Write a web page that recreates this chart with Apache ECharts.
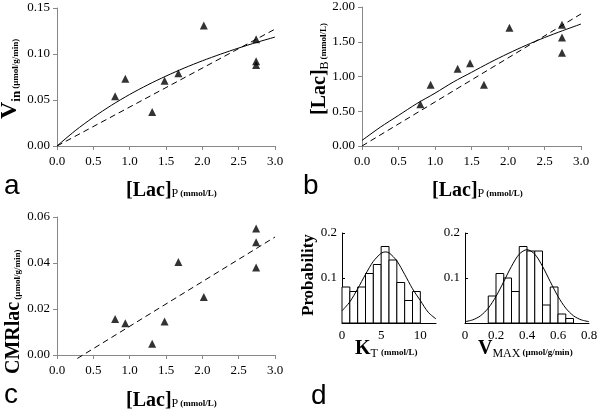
<!DOCTYPE html>
<html><head><meta charset="utf-8">
<script src="https://cdn.jsdelivr.net/npm/echarts@6/dist/echarts.min.js"></script>
<style>html,body{margin:0;padding:0;background:#fff}#c{width:601px;height:412px}</style>
</head><body><div id="c"></div>
<script>
// ---- data ----
const lacP = [0.80, 0.94, 1.31, 1.48, 1.67, 2.02, 2.74, 2.74, 2.74];
const vIn = [0.054, 0.073, 0.037, 0.071, 0.079, 0.131, 0.116, 0.092, 0.088];
const lacB = [0.60, 0.88, 1.11, 1.19, 0.88, 1.70, 1.745, 1.56, 1.34];
const cmrLac = [0.0156, 0.0138, 0.0049, 0.0146, 0.0404, 0.0252, 0.055, 0.049, 0.038];

const fitX = [0, 0.25, 0.5, 0.75, 1, 1.25, 1.5, 1.75, 2, 2.25, 2.5, 2.75, 3];
const vInFit = [0, 0.0166, 0.0312, 0.0443, 0.056, 0.0665, 0.076, 0.0847, 0.0926, 0.0998, 0.1065, 0.1127, 0.1184];
const lacBFit = [0.08, 0.27, 0.44, 0.61, 0.76, 0.92, 1.06, 1.20, 1.33, 1.45, 1.56, 1.66, 1.755];
const dashX = [0, 3];
const vInDash = [0, 0.127];
const lacBDash = [0, 1.90];
const cmrDashX = [0.28, 3.0];
const cmrDashY = [-0.0015, 0.0513];

const ktEdges = [0, 1, 2, 3, 4, 5, 6, 7, 8, 9, 10];
const ktProb = [0.08, 0.07, 0.08, 0.11, 0.13, 0.17, 0.14, 0.09, 0.05, 0.07];
const ktCurveX = [0, 1, 2, 3, 4, 5, 5.5, 6, 7, 8, 9, 10, 11, 12];
const ktCurveY = [0.027, 0.047, 0.076, 0.108, 0.137, 0.155, 0.158, 0.156, 0.138, 0.108, 0.076, 0.050, 0.024, 0.009];

const vmEdges = [0.15, 0.20, 0.25, 0.30, 0.35, 0.40, 0.45, 0.50, 0.55, 0.60, 0.65, 0.70];
const vmProb = [0.06, 0.11, 0.10, 0.07, 0.17, 0.16, 0.16, 0.04, 0.08, 0.02, 0.01];
const vmCurveX = [0, 0.05, 0.1, 0.15, 0.2, 0.25, 0.3, 0.35, 0.4, 0.45, 0.5, 0.55, 0.6, 0.65, 0.7, 0.75, 0.8];
const vmCurveY = [0.003, 0.007, 0.016, 0.033, 0.059, 0.092, 0.126, 0.153, 0.163, 0.153, 0.126, 0.092, 0.059, 0.033, 0.016, 0.007, 0.003];

// ---- helpers ----
const SERIF = 'Liberation Serif';
const mctx = document.createElement('canvas').getContext('2d');
function lbl(x, y, rot, toks) {
  let cx = 0; const ch = [];
  toks.forEach(([t, s, b, dy, gap]) => {
    cx += (gap || 0);
    const font = (b ? 'bold ' : '') + s + 'px "Liberation Serif"';
    mctx.font = font;
    const w = mctx.measureText(t).width;
    ch.push({type: 'text', x: cx, y: (dy || 0) - 0.33 * s,
      style: {text: t, font: font, fill: '#000', align: 'left', verticalAlign: 'middle'}});
    cx += w;
  });
  return {type: 'group', x: x, y: y, rotation: rot, children: ch};
}
function letter(t, x, y) {
  return {type: 'text', x: x, y: y, style: {text: t, font: '28px "Liberation Sans"', fill: '#000', align: 'left', verticalAlign: 'bottom'}};
}
const zip = (a, b) => a.map((v, i) => [v, b[i]]);
const AX = '#888';
function xAx(gi, min, max, interval, fmt) {
  return {gridIndex: gi, type: 'value', min: min, max: max, interval: interval,
    axisLine: {show: true, lineStyle: {color: AX, width: 1}},
    axisTick: {show: true, inside: false, length: 4, lineStyle: {color: AX}},
    splitLine: {show: false},
    axisLabel: {margin: 9, color: '#000', fontFamily: SERIF, fontSize: 13, formatter: fmt}};
}
function yAx(gi, min, max, interval, fmt) {
  return {gridIndex: gi, type: 'value', min: min, max: max, interval: interval,
    axisLine: {show: true, lineStyle: {color: AX, width: 1}},
    axisTick: {show: true, inside: false, length: 4, lineStyle: {color: AX}},
    splitLine: {show: false},
    axisLabel: {margin: 7, color: '#000', fontFamily: SERIF, fontSize: 13, formatter: fmt}};
}
function hx(gi, min, max, interval, showMax) {
  return {gridIndex: gi, type: 'value', min: min, max: max, interval: interval,
    axisLine: {show: true, lineStyle: {color: '#000', width: 1}},
    axisTick: {show: false}, splitLine: {show: false},
    axisLabel: {margin: 6, color: '#000', fontFamily: SERIF, fontSize: 13, showMaxLabel: showMax,
      formatter: v => (v === 0 ? '0' : String(+v.toFixed(2)))}};
}
function hy(gi) {
  return {gridIndex: gi, type: 'value', min: 0, max: 0.2, interval: 0.1,
    axisLine: {show: true, lineStyle: {color: '#000', width: 1}},
    axisTick: {show: true, inside: true, length: 3},
    splitLine: {show: false},
    axisLabel: {margin: 5, color: '#000', fontFamily: SERIF, fontSize: 13,
      formatter: v => (v === 0 ? '' : v.toFixed(1))}};
}
function scat(gi, ys) {
  return {type: 'scatter', xAxisIndex: gi, yAxisIndex: gi, data: zip(lacP, ys),
    symbol: 'triangle', symbolSize: 8, itemStyle: {color: '#000'}, z: 5};
}
function line(gi, xs, ys, dashed, smooth) {
  return {type: 'line', xAxisIndex: gi, yAxisIndex: gi, data: zip(xs, ys), showSymbol: false,
    smooth: smooth ? 0.3 : false, clip: false,
    lineStyle: {color: '#000', width: 1, type: dashed ? [6, 4] : 'solid'}};
}
function hist(gi, edges, probs) {
  const d = probs.map((p, i) => [edges[i], edges[i + 1], p]);
  return {type: 'custom', xAxisIndex: gi, yAxisIndex: gi, data: d,
    encode: {x: [0, 1], y: 2},
    renderItem: (params, api) => {
      const p0 = api.coord([api.value(0), api.value(2)]);
      const p1 = api.coord([api.value(1), 0]);
      return {type: 'rect', shape: {x: p0[0], y: p0[1], width: p1[0] - p0[0], height: p1[1] - p0[1]},
        style: {fill: '#fff', stroke: '#000', lineWidth: 1}};
    }};
}

const chart = echarts.init(document.getElementById('c'), null, {renderer: 'canvas'});
const f1 = v => v.toFixed(1), f2 = v => v.toFixed(2);
const R = Math.PI / 2;
chart.setOption({
  animation: false,
  grid: [
    {left: 57, top: 8, width: 218, height: 138},
    {left: 362, top: 7, width: 219, height: 139},
    {left: 57, top: 217, width: 218, height: 138},
    {left: 342, top: 233, width: 94, height: 90},
    {left: 465, top: 233, width: 124, height: 90}
  ],
  xAxis: [xAx(0, 0, 3, 0.5, f1), xAx(1, 0, 3, 0.5, f1), xAx(2, 0, 3, 0.5, f1), hx(3, 0, 12, 5, false), hx(4, 0, 0.8, 0.2, true)],
  yAxis: [yAx(0, 0, 0.15, 0.05, f2), yAx(1, 0, 2, 0.5, f2), yAx(2, 0, 0.06, 0.02, f2), hy(3), hy(4)],
  series: [
    line(0, fitX, vInFit, false, true), line(0, dashX, vInDash, true, false), scat(0, vIn),
    line(1, fitX, lacBFit, false, true), line(1, dashX, lacBDash, true, false), scat(1, lacB),
    line(2, cmrDashX, cmrDashY, true, false), scat(2, cmrLac),
    hist(3, ktEdges, ktProb), line(3, ktCurveX, ktCurveY, false, true),
    hist(4, vmEdges, vmProb), line(4, vmCurveX, vmCurveY, false, true)
  ],
  graphic: [
    // panel a
    lbl(18, 119, R, [['V', 24, true], ['in', 13, true, 3], ['(\u00b5mol/g/min)', 9, true, 1, 2]]),
    lbl(126, 197, 0, [['[Lac]', 20, true], ['P', 12, false, 1], ['(mmol/L)', 9, true, 0, 2]]),
    letter('a', 4, 200),
    // panel b
    lbl(326, 115, R, [['[Lac]', 20, true], ['B', 12, false, 3], ['(mmol/L)', 9, true, 1, 2]]),
    lbl(432, 197, 0, [['[Lac]', 20, true], ['P', 12, false, 1], ['(mmol/L)', 9, true, 0, 2]]),
    letter('b', 303, 200),
    // panel c
    lbl(20, 374, R, [['CMRlac', 20, true], ['(\u00b5mol/g/min)', 9, true, 1, 2]]),
    lbl(126, 407, 0, [['[Lac]', 20, true], ['P', 12, false, 1], ['(mmol/L)', 9, true, 0, 2]]),
    letter('c', 4, 409),
    // panel d
    lbl(314, 316, R, [['Probability', 17, true]]),
    lbl(355, 355, 0, [['K', 20, true], ['T', 12, false, 3], ['(mmol/L)', 9, true, 1, 3]]),
    lbl(478, 355, 0, [['V', 20, true], ['MAX', 12, false, 3], ['(\u00b5mol/g/min)', 9, true, 1, 2]]),
    letter('d', 311, 410)
  ]
});
</script></body></html>
